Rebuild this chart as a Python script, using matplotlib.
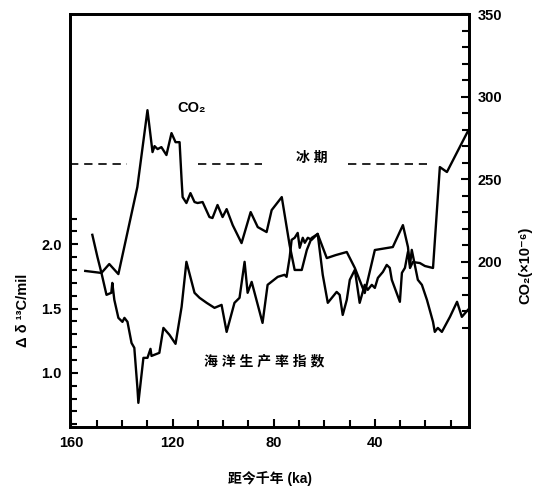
import matplotlib
matplotlib.use("Agg")
import matplotlib.pyplot as plt
from matplotlib.ticker import FixedLocator

plt.rcParams['font.family'] = ['Liberation Sans', 'Noto Sans CJK SC', 'DejaVu Sans']
plt.rcParams['font.weight'] = 'bold'

# CO2 record (ka before present, ppm x 10^-6)
co2_age = [154.5, 148.1, 145.0, 141.4, 133.9, 129.9, 127.9, 127.1, 125.9, 124.4,
           122.4, 120.4, 118.8, 117.2, 116.4, 116.0, 114.5, 112.9, 111.3, 110.1,
           108.1, 105.4, 104.2, 102.2, 100.2, 98.6, 96.2, 92.7, 89.1, 86.3,
           82.8, 80.8, 76.8, 73.7, 71.7, 68.9, 66.9, 65.0, 62.6, 59.0,
           55.5, 51.1, 47.9, 44.0, 40.0, 32.9, 28.9, 26.9, 26.1, 25.0,
           22.2, 20.2, 17.0, 14.3, 11.5, 3.2]
co2_val = [194.4, 193.2, 198.6, 192.5, 245.3, 291.9, 266.5, 270.1, 268.3, 269.5,
           264.7, 278.0, 272.5, 272.5, 249.5, 239.2, 235.6, 241.6, 236.2, 235.6,
           236.2, 227.1, 226.5, 234.4, 227.1, 231.9, 222.2, 211.3, 230.1, 221.0,
           218.0, 231.3, 239.2, 210.1, 195.0, 195.0, 207.1, 214.4, 216.8, 202.2,
           204.0, 205.9, 196.2, 181.0, 207.1, 208.9, 222.2, 208.9, 196.2, 199.8,
           199.2, 197.4, 196.2, 257.4, 254.4, 279.2]

# ocean productivity index (delta delta 13C, per mil)
prod_age = [151.7, 149.7, 148.1, 146.1, 144.2, 143.8, 143.0, 141.4, 139.8, 139.0,
            137.8, 136.2, 135.1, 133.9, 133.5, 131.5, 129.9, 128.7, 128.3, 125.2,
            123.6, 121.2, 118.8, 116.4, 114.5, 111.3, 109.3, 106.5, 103.4, 100.6,
            98.6, 95.5, 93.5, 91.5, 90.3, 88.7, 84.4, 82.4, 78.4, 75.7,
            74.9, 73.7, 72.9, 71.7, 70.5, 69.7, 68.5, 67.7, 66.5, 65.0,
            62.6, 60.6, 58.6, 57.0, 55.1, 53.9, 52.7, 51.1, 49.9, 47.9,
            46.0, 44.0, 42.8, 41.2, 40.0, 38.8, 36.8, 35.3, 34.1, 33.3,
            30.1, 29.3, 28.1, 26.9, 26.1, 25.4, 23.0, 21.4, 19.4, 17.0,
            16.3, 15.1, 13.5, 10.3, 7.5, 5.6, 3.2]
prod_val = [2.074, 1.903, 1.778, 1.607, 1.623, 1.700, 1.568, 1.428, 1.397, 1.428,
            1.397, 1.233, 1.195, 0.891, 0.767, 1.117, 1.117, 1.187, 1.132, 1.156,
            1.350, 1.296, 1.226, 1.514, 1.864, 1.623, 1.584, 1.545, 1.506, 1.529,
            1.319, 1.545, 1.584, 1.864, 1.623, 1.708, 1.389, 1.685, 1.747, 1.763,
            1.747, 1.895, 2.035, 2.051, 2.089, 1.973, 2.051, 2.012, 2.051, 2.035,
            2.082, 1.763, 1.545, 1.584, 1.630, 1.607, 1.451, 1.568, 1.724, 1.802,
            1.545, 1.685, 1.646, 1.685, 1.661, 1.739, 1.786, 1.840, 1.817, 1.724,
            1.553, 1.778, 1.817, 1.942, 1.840, 1.957, 1.724, 1.685, 1.568, 1.397,
            1.319, 1.350, 1.319, 1.436, 1.553, 1.436, 1.490]

# glacial period marker (dashed level on CO2 axis)
glacial_level = 259
glacial_segments = [(160.5, 137.8), (110.0, 84.8), (50.7, 19.4)]

fig = plt.figure(figsize=(5.39, 4.90), dpi=100)
ax = fig.add_axes([0.130, 0.128, 0.740, 0.843])
ax2 = ax.twinx()

ax.plot(prod_age, prod_val, color='black', lw=1.7)
ax2.plot(co2_age, co2_val, color='black', lw=1.7)
for x0, x1 in glacial_segments:
    ax2.plot([x0, x1], [glacial_level, glacial_level], color='black', lw=1.2,
             linestyle=(0, (5, 3.5)))

ax.set_xlim(160.5, 2.8)
ax.set_ylim(0.577, 3.79)
ax2.set_ylim(99.6, 350.1)

ax.xaxis.set_major_locator(FixedLocator([160, 120, 80, 40]))
ax.xaxis.set_minor_locator(FixedLocator([150, 140, 130, 110, 100, 90, 70, 60, 50, 30, 20, 10]))
ax.yaxis.set_major_locator(FixedLocator([1.0, 1.5, 2.0]))
ax.yaxis.set_minor_locator(FixedLocator([0.6, 0.7, 0.8, 0.9, 1.1, 1.2, 1.3, 1.4, 1.6, 1.7,
                                         1.8, 1.9, 2.1, 2.2]))
ax.yaxis.set_major_formatter(plt.FixedFormatter(['1.0', '1.5', '2.0']))
ax2.yaxis.set_major_locator(FixedLocator([200, 250, 300, 350]))
ax2.yaxis.set_minor_locator(FixedLocator(list(range(160, 350, 10))))

for a in (ax, ax2):
    a.tick_params(which='both', direction='in', labelsize=10.5, width=1.5)
    a.tick_params(which='major', length=6, pad=6)
    a.tick_params(which='minor', length=5)
    for s in a.spines.values():
        s.set_linewidth(2)
ax.tick_params(top=False, right=False)
ax2.tick_params(left=False, top=False)
for lbl in ax.get_xticklabels() + ax.get_yticklabels() + ax2.get_yticklabels():
    lbl.set_fontweight('bold')

ax.set_xlabel('距今千年 (ka)', fontsize=10, fontweight='bold')
ax.xaxis.set_label_coords(0.50, -0.105)
ax.set_ylabel('Δ δ ¹³C/mil', fontsize=10.5, fontweight='bold')
ax.yaxis.set_label_coords(-0.10, 0.284)
ax2.set_ylabel('CO₂(×10⁻⁶)', fontsize=10.5, fontweight='bold')
ax2.yaxis.set_label_coords(1.125, 0.393)

ax2.text(112.5, 293, 'CO₂', fontsize=10.5, fontweight='bold', ha='center', va='center')
ax2.text(65, 263, '冰 期', fontsize=10, fontweight='bold', ha='center', va='center')
ax.text(83.6, 1.086, '海 洋 生 产 率 指 数', fontsize=10, fontweight='bold',
        ha='center', va='center')

fig.savefig('out.png', dpi=100)
